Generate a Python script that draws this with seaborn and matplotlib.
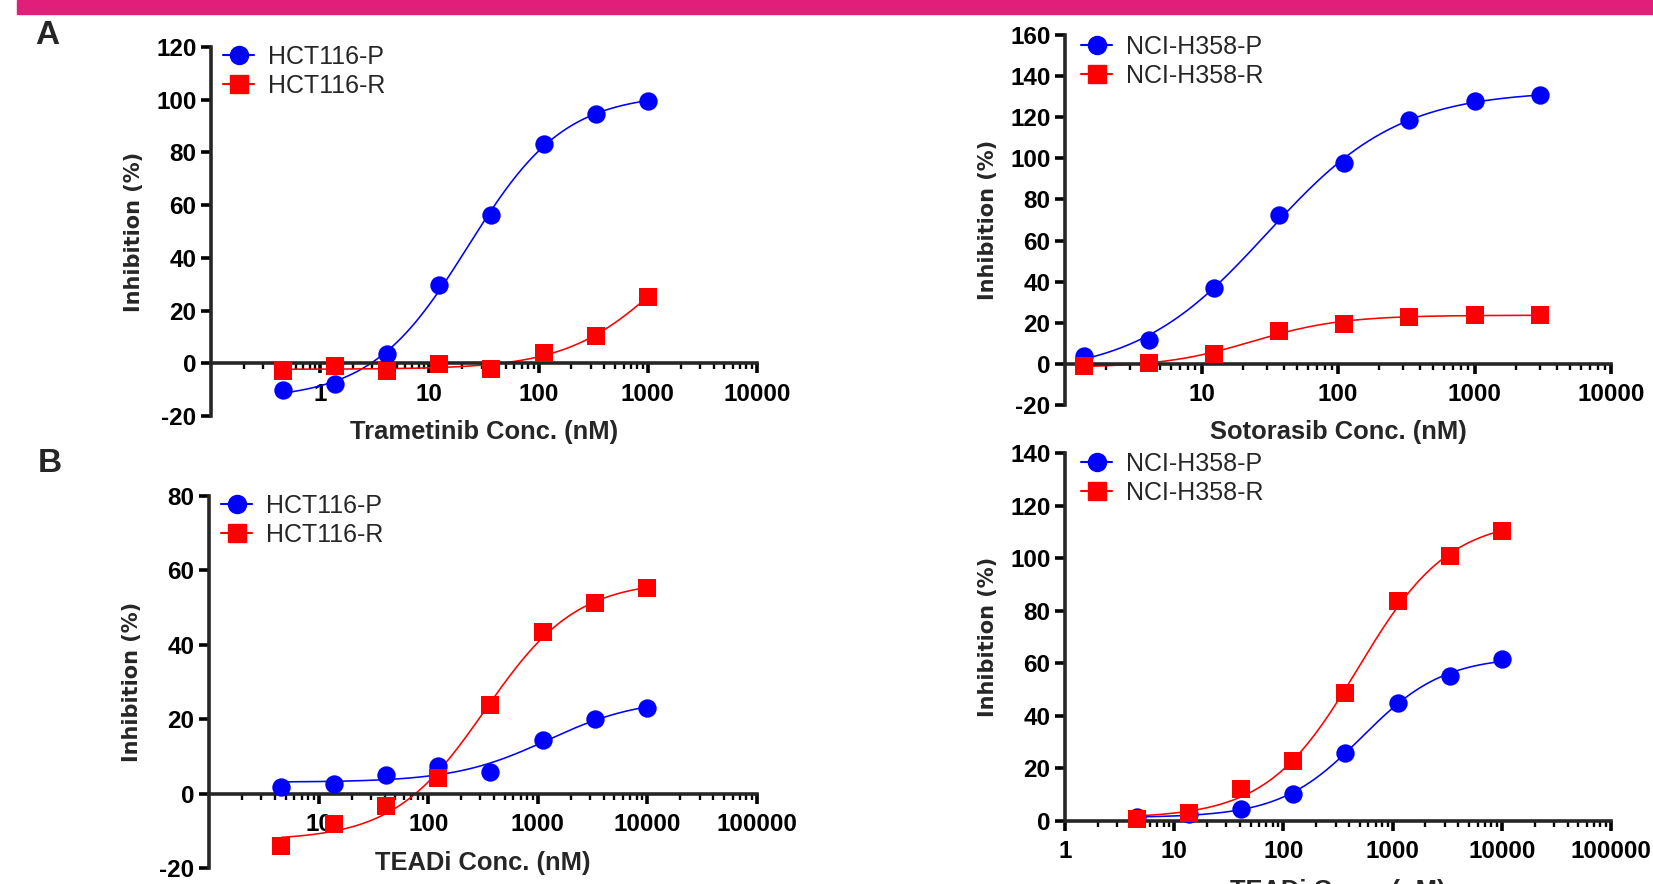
import numpy as np
import pandas as pd
import matplotlib
matplotlib.use("Agg")
import matplotlib.pyplot as plt
import seaborn as sns
from matplotlib.lines import Line2D
from matplotlib.patches import Rectangle
from matplotlib.ticker import LogLocator, NullFormatter

# Values
tram_conc = [0.457, 1.37, 4.12, 12.3, 37.0, 111, 333, 1000]
tram_hct_p = [-10.1, -7.8, 3.4, 29.8, 56.3, 83.3, 94.4, 99.7]
tram_hct_r = [-2.9, -1.1, -2.8, -0.3, -2.0, 3.8, 10.5, 25.3]

soto_conc = [1.37, 4.12, 12.3, 37.0, 111, 333, 1000, 3000]
soto_h358_p = [4.0, 11.6, 36.8, 72.2, 97.9, 118.5, 127.8, 131.0]
soto_h358_r = [-0.9, 0.4, 5.0, 15.8, 19.3, 23.0, 24.0, 23.8]

teadi_conc = [4.57, 13.7, 41.2, 123, 370, 1111, 3333, 10000]
teadi_hct_p = [1.9, 2.6, 5.1, 7.3, 5.9, 14.5, 20.1, 23.0]
teadi_hct_r = [-14.2, -8.2, -3.3, 4.3, 23.7, 43.4, 51.3, 55.2]
teadi_h358_p = [1.5, 2.5, 4.5, 10.4, 25.9, 45.0, 55.1, 61.5]
teadi_h358_r = [0.6, 3.1, 12.1, 22.8, 48.8, 83.6, 100.9, 110.2]

hct_names = ["HCT116-P", "HCT116-R"]
h358_names = ["NCI-H358-P", "NCI-H358-R"]


def fit_4pl(conc, resp):
    # least-squares 4-parameter logistic: grid on logEC50/hill, linear in bottom/top
    lx = np.log10(conc)
    y = np.asarray(resp, dtype=float)
    cs = np.linspace(lx.min() - 1.5, lx.max() + 2.5, 401)
    hs = np.linspace(0.2, 4.0, 191)
    C, Hs = np.meshgrid(cs, hs, indexing="ij")
    with np.errstate(all="ignore"):
        s = 1.0 / (1.0 + 10 ** ((C[..., None] - lx) * Hs[..., None]))
        a = 1.0 - s
        aa = (a * a).sum(-1)
        ab = (a * s).sum(-1)
        bb = (s * s).sum(-1)
        ay = (a * y).sum(-1)
        by = (s * y).sum(-1)
        det = aa * bb - ab * ab
        B = (bb * ay - ab * by) / det
        T = (aa * by - ab * ay) / det
        sse = ((B[..., None] * a + T[..., None] * s - y) ** 2).sum(-1)
    sse[~np.isfinite(sse)] = np.inf
    i = np.unravel_index(np.argmin(sse), sse.shape)
    return B[i], T[i], C[i], Hs[i]


def curve(conc, resp):
    b, t, c, h = fit_4pl(conc, resp)
    xx = np.logspace(np.log10(min(conc)), np.log10(max(conc)), 300)
    yy = b + (t - b) / (1 + 10 ** ((c - np.log10(xx)) * h))
    return xx, yy


sns.set_theme(style="ticks")
plt.rcParams["font.family"] = ["Liberation Sans", "DejaVu Sans"]
plt.rcParams["font.weight"] = "bold"

W, H = 1653, 884
fig = plt.figure(figsize=(W / 100, H / 100), dpi=100)
fig.patches.append(Rectangle((17 / W, 1 - 14 / H), 1, 14 / H, transform=fig.transFigure,
                             color="#e11e79", zorder=0))
fig.text(47 / W, 1 - 36 / H, "A", fontsize=24, fontweight="bold", ha="center", va="center")
fig.text(50 / W, 1 - 464 / H, "B", fontsize=24, fontweight="bold", ha="center", va="center")


def add_ax(l, t, r, b):
    return fig.add_axes([l / W, 1 - b / H, (r - l) / W, (b - t) / H])


def panel(box, conc, p_vals, r_vals, names, xlim, xticks, xlabels, ylim, yticks,
          xlabel, xlab_y, leg_xy):
    ax = add_ax(*box)
    for vals, col, mk in [(p_vals, "blue", "o"), (r_vals, "red", "s")]:
        xx, yy = curve(conc, vals)
        sns.lineplot(x=xx, y=yy, color=col, linewidth=1.15, ax=ax, sort=False)
        sns.scatterplot(x=conc, y=vals, color=col, marker=mk, s=175, edgecolor=col,
                        linewidth=0, ax=ax, zorder=5, clip_on=False)
    ax.set_xscale("log")
    ax.set_xlim(*xlim)
    ax.set_ylim(*ylim)
    ax.set_xticks(xticks, xlabels)
    ax.xaxis.set_minor_locator(LogLocator(base=10, subs=np.arange(2, 10), numticks=20))
    ax.xaxis.set_minor_formatter(NullFormatter())
    ax.set_yticks(yticks, [str(v) for v in yticks])
    for side in ["top", "right"]:
        ax.spines[side].set_visible(False)
    ax.spines["bottom"].set_position(("data", 0))
    for side in ["left", "bottom"]:
        ax.spines[side].set_linewidth(2.6)
    ax.tick_params(axis="both", which="major", length=7, width=2.6, labelsize=17.5,
                   color="black", labelcolor="black")
    ax.tick_params(axis="x", which="major", pad=7)
    ax.tick_params(axis="y", which="major", pad=3.5)
    ax.tick_params(axis="x", which="minor", length=4.5, width=1.7, color="black")
    ax.set_xlabel(xlabel, fontsize=18.4, fontweight="bold", va="center")
    ax.xaxis.set_label_coords(0.5, xlab_y)
    ax.set_ylabel("Inhibition (%)", fontsize=15, fontweight="bold", va="center",
                  fontfamily="DejaVu Sans")
    ax.yaxis.set_label_coords(-0.141, 0.5)
    ax.set_facecolor("none")
    handles = [Line2D([], [], color="blue", marker="o", markersize=13, linewidth=1.5),
               Line2D([], [], color="red", marker="s", markersize=13, linewidth=1.5)]
    ax.legend(handles, names, loc="upper left", bbox_to_anchor=(leg_xy[0] / W, 1 - leg_xy[1] / H),
              bbox_transform=fig.transFigure, frameon=False, borderpad=0, borderaxespad=0,
              handlelength=1.25, handletextpad=0.55, labelspacing=0.2,
              prop={"size": 18, "weight": "normal"})
    return ax


panel((211, 47, 757, 416), tram_conc, tram_hct_p, tram_hct_r, hct_names,
      (0.1, 10000), [1, 10, 100, 1000, 10000], ["1", "10", "100", "1000", "10000"],
      (-20, 120), list(range(-20, 121, 20)), "Trametinib Conc. (nM)", -0.044, (223, 45))

panel((1065, 35, 1611, 405), soto_conc, soto_h358_p, soto_h358_r, h358_names,
      (1, 10000), [10, 100, 1000, 10000], ["10", "100", "1000", "10000"],
      (-20, 160), list(range(-20, 161, 20)), "Sotorasib Conc. (nM)", -0.074, (1081, 35))

panel((209, 496, 757, 868), teadi_conc, teadi_hct_p, teadi_hct_r, hct_names,
      (1, 100000), [10, 100, 1000, 10000, 100000], ["10", "100", "1000", "10000", "100000"],
      (-20, 80), list(range(-20, 81, 20)), "TEADi Conc. (nM)", 0.014, (221, 494))

panel((1065, 453, 1611, 821), teadi_conc, teadi_h358_p, teadi_h358_r, h358_names,
      (1, 100000), [1, 10, 100, 1000, 10000, 100000], ["1", "10", "100", "1000", "10000", "100000"],
      (0, 140), list(range(0, 141, 20)), "TEADi Conc. (nM)", -0.19, (1081, 452))

fig.savefig("out.png", dpi=100)
